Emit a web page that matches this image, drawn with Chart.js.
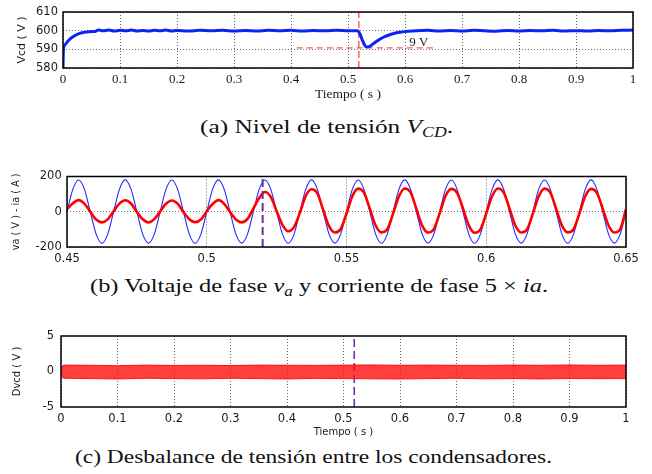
<!DOCTYPE html>
<html><head><meta charset="utf-8">
<script src="https://cdn.jsdelivr.net/npm/chart.js@4/dist/chart.umd.min.js"></script>
<style>
html,body{margin:0;padding:0;background:#fff;}
body{width:652px;height:474px;position:relative;overflow:hidden;}
canvas{position:absolute;left:0;}
.cap{position:absolute;white-space:nowrap;font-family:"Liberation Serif","Times New Roman",serif;font-size:19.5px;line-height:1;color:#111;transform-origin:0 0;}
.cap sub{font-size:0.7em;vertical-align:-0.3em;line-height:0;}
</style></head><body>
<canvas id="ca" width="652" height="106" style="top:0px"></canvas>
<canvas id="cb" width="652" height="112" style="top:160px"></canvas>
<canvas id="cc" width="652" height="121" style="top:320px"></canvas>
<div class="cap" id="capA">(a) Nivel de tensión <i>V</i><sub><i>CD</i></sub>.</div>
<div class="cap" id="capB">(b) Voltaje de fase <i>v</i><sub><i>a</i></sub> y corriente de fase 5 × <i>ia</i>.</div>
<div class="cap" id="capC">(c) Desbalance de tensión entre los condensadores.</div>
<script>
// ---------- (a) DC-link voltage ----------
const vcdTime = [
  0, 0.0008, 0.004, 0.008, 0.013, 0.019, 0.026, 0.033, 0.041, 0.05,
  0.056, 0.062, 0.07, 0.08, 0.09, 0.1, 0.11, 0.12, 0.13, 0.14,
  0.15, 0.16, 0.17, 0.18, 0.19, 0.2, 0.22, 0.24, 0.26, 0.28,
  0.3, 0.32, 0.34, 0.36, 0.38, 0.4, 0.42, 0.44, 0.46, 0.48,
  0.5, 0.51, 0.517, 0.521, 0.525, 0.529, 0.533, 0.537, 0.542, 0.548,
  0.555, 0.563, 0.572, 0.582, 0.594, 0.606, 0.62, 0.64, 0.66, 0.68,
  0.7, 0.72, 0.74, 0.76, 0.78, 0.8, 0.82, 0.84, 0.86, 0.88,
  0.9, 0.92, 0.94, 0.96, 0.98, 1.0];
const vcdValue = [
  580, 590, 592.6, 594.2, 595.7, 597.0, 598.2, 598.9, 599.3, 599.5,
  599.6, 600.4, 599.9, 600.3, 599.8, 600.2, 599.9, 600.3, 599.8, 600.1,
  599.8, 600.2, 599.9, 600.3, 599.8, 600.1, 599.8, 600.2, 599.9, 600.2,
  599.8, 600.1, 599.8, 600.2, 599.9, 600.2, 599.8, 600.1, 599.9, 600.2,
  599.9, 600.0, 599.9, 598.2, 595.0, 592.4, 591.2, 591.4, 592.4, 593.8,
  595.3, 596.6, 597.7, 598.6, 599.3, 599.7, 600.0, 600.2, 599.8, 600.1,
  599.8, 600.2, 599.9, 599.7, 600.1, 599.8, 600.1, 599.9, 600.2, 599.8,
  600.0, 599.8, 600.1, 599.9, 600.2, 600.3];
const eventTimeA = 0.519;
const dipLevel = 590.8;
const dipLineFrom = 0.41, dipLineTo = 0.653;
const dipLabel = "9 V", dipLabelTime = 0.6075, dipLabelValue = 592.0;
const xTicksA = [0, 0.1, 0.2, 0.3, 0.4, 0.5, 0.6, 0.7, 0.8, 0.9, 1];
const xLabelsA = ["0","0.1","0.2","0.3","0.4","0.5","0.6","0.7","0.8","0.9","1"];
const yTicksA = [580, 590, 600, 610];
const yLabelsA = ["580","590","600","610"];

// ---------- (b) phase voltage and 5x current (samples every 1/480 s from 0.45 s) ----------
const phaseStart = 0.45, phaseStep = 1/480;
const vaValue = [
  0,127,180,127,0,-127,-179,-127,
  0,127,181,127,0,-127,-178,-127,
  0,127,180,127,0,-127,-179,-127,
  0,127,181,127,0,-127,-178,-127,
  0,127,180,127,0,-127,-179,-127,
  0,127,181,127,0,-127,-178,-127,
  0,127,180,127,0,-127,-179,-127,
  0,127,181,127,0,-127,-178,-127,
  0,127,180,127,0,-127,-179,-127,
  0,127,181,127,0,-127,-178,-127,
  0,127,180,127,0,-127,-179,-127,
  0,127,181,127,0,-127,-178,-127,
  0];
const iaValue = [
  15,48,66,45,0,-44,-60,-43,
  3,46,65,47,-1,-43,-61,-42,
  2,45,64,46,-2,-42,-59,-44,
  3,44,66,45,-1,-44,-60,-40,
  18,78,112,84,4,-74,-111,-86,
  -6,90,128,104,10,-82,-118,-98,
  -10,88,131,108,18,-78,-117,-100,
  -11,87,132,110,17,-79,-118,-99,
  -9,89,130,107,19,-77,-119,-100,
  -10,88,132,109,18,-78,-118,-101,
  -11,87,131,108,17,-79,-117,-99,
  -10,88,130,107,18,-78,-118,-100,
  15];
const eventTimeB = 0.52;
const xTicksB = [0.45, 0.5, 0.55, 0.6, 0.65];
const xLabelsB = ["0.45","0.5","0.55","0.6","0.65"];
const yTicksB = [-200, 0, 200];
const yLabelsB = ["-200","0","200"];

// ---------- (c) capacitor voltage unbalance (ripple envelope) ----------
const dvTime  = [0, 0.004, 0.05, 0.1, 0.15, 0.2, 0.25, 0.3, 0.35, 0.4, 0.45, 0.5, 0.55, 0.6, 0.65, 0.7, 0.75, 0.8, 0.85, 0.9, 0.95, 1.0];
const dvUpper = [0.3, 0.9, 0.88, 0.82, 0.9, 0.85, 0.88, 0.84, 0.9, 0.88, 0.86, 0.9, 0.92, 0.88, 0.9, 0.88, 0.86, 0.9, 0.88, 0.92, 0.88, 0.9];
const dvLower = [-0.3, -0.95, -1.0, -1.05, -0.95, -1.0, -1.03, -0.95, -1.0, -1.05, -0.97, -1.0, -1.03, -1.05, -1.0, -0.95, -1.03, -1.0, -1.05, -0.99, -1.01, -1.0];
const eventTimeC = 0.519;
const xTicksC = [0, 0.1, 0.2, 0.3, 0.4, 0.5, 0.6, 0.7, 0.8, 0.9, 1];
const xLabelsC = ["0","0.1","0.2","0.3","0.4","0.5","0.6","0.7","0.8","0.9","1"];
const yTicksC = [-5, 0, 5];
const yLabelsC = ["-5","0","5"];

// ---------- helpers ----------
const SANS = "'DejaVu Sans', Verdana, sans-serif";
const SERIF = "'Liberation Serif', 'Times New Roman', serif";
const pairs = (xs, ys) => xs.map((x, i) => ({x: x, y: ys[i]}));
const fixed = list => axis => { axis.ticks = list.map(v => ({value: v})); };
const boxPlugin = {
  id: 'box',
  afterDraw(chart) {
    const {ctx, chartArea: a} = chart;
    ctx.save();
    ctx.strokeStyle = '#000';
    ctx.lineWidth = 1.5;
    ctx.strokeRect(a.left, a.top, a.right - a.left, a.bottom - a.top);
    ctx.restore();
  }
};
function axisX(min, max, ticks, labels, height, font, pad, title) {
  const o = {
    type: 'linear', min: min, max: max,
    afterBuildTicks: fixed(ticks),
    afterFit: s => { s.height = height; },
    grid: {color: 'rgba(0,0,0,0.6)', lineWidth: 1, drawTicks: false},
    border: {display: false, dash: [1, 2]},
    ticks: {autoSkip: false, maxRotation: 0, padding: pad, color: '#1a1a1a', font: font,
            callback: (v, i) => labels[i]}
  };
  if (title) o.title = title;
  return o;
}
function axisY(min, max, ticks, labels, width, font, pad, title, showGrid) {
  return {
    min: min, max: max,
    afterBuildTicks: fixed(ticks),
    afterFit: s => { s.width = width; },
    grid: {display: showGrid, color: 'rgba(0,0,0,0.55)', lineWidth: 1, drawTicks: false},
    border: {display: false, dash: [1, 2]},
    ticks: {autoSkip: false, padding: pad, color: '#1a1a1a', font: font,
            callback: (v, i) => labels[i]},
    title: title
  };
}
const baseOpts = {
  responsive: false, animation: false,
  plugins: {legend: {display: false}, tooltip: {enabled: false}},
  elements: {point: {radius: 0}}
};

// ---------- chart (a) ----------
const labelPlugin = {
  id: 'dipLabel',
  afterDatasetsDraw(chart) {
    const {ctx, scales} = chart;
    ctx.save();
    ctx.font = "13px " + SERIF;
    ctx.fillStyle = '#222';
    ctx.textAlign = 'left';
    ctx.textBaseline = 'alphabetic';
    ctx.fillText(dipLabel, scales.x.getPixelForValue(dipLabelTime), scales.y.getPixelForValue(dipLabelValue));
    ctx.restore();
  }
};
new Chart(document.getElementById('ca'), {
  type: 'line',
  data: {datasets: [
    {data: pairs(vcdTime, vcdValue), borderColor: '#0a24f2', borderWidth: 3, cubicInterpolationMode: 'monotone', order: 0},
    {data: [{x: eventTimeA, y: 580}, {x: eventTimeA, y: 610}], borderColor: 'rgba(255,50,50,0.9)', borderWidth: 1.3, borderDash: [7, 3], order: 1},
    {data: [{x: dipLineFrom, y: dipLevel}, {x: dipLineTo, y: dipLevel}], borderColor: 'rgba(255,60,60,0.85)', borderWidth: 1.3, borderDash: [6, 4], order: 1}
  ]},
  options: Object.assign({}, baseOpts, {
    layout: {padding: {left: 0, right: 19, top: 12, bottom: 0}},
    scales: {
      x: axisX(0, 1, xTicksA, xLabelsA, 38, {family: SERIF, size: 13}, 4.2,
               {display: true, text: 'Tiempo ( s )', color: '#1a1a1a', font: {family: SERIF, size: 13.5}, padding: {top: 0, bottom: 3.9}}),
      y: axisY(580, 610, yTicksA, yLabelsA, 63, {family: SANS, size: 11.5}, 5,
               {display: true, text: 'Vcd ( V )', color: '#1a1a1a', font: {family: SANS, size: 11}, padding: {top: 15.4, bottom: 0}}, true)
    }
  }),
  plugins: [boxPlugin, labelPlugin]
});

// ---------- chart (b) ----------
const phaseTime = vaValue.map((_, k) => phaseStart + k * phaseStep);
new Chart(document.getElementById('cb'), {
  type: 'line',
  data: {datasets: [
    {data: [{x: eventTimeB, y: -200}, {x: eventTimeB, y: 200}], borderColor: '#6a2f9e', borderWidth: 2, borderDash: [8, 4], order: 0},
    {data: pairs(phaseTime, iaValue), borderColor: '#ff0000', borderWidth: 2.6, cubicInterpolationMode: 'monotone', order: 1},
    {data: pairs(phaseTime, vaValue), borderColor: '#1f2bff', borderWidth: 1.1, cubicInterpolationMode: 'monotone', order: 2}
  ]},
  options: Object.assign({}, baseOpts, {
    layout: {padding: {left: 0, right: 26, top: 16.5, bottom: 0}},
    scales: {
      x: axisX(0.45, 0.65, xTicksB, xLabelsB, 25, {family: SANS, size: 11.5}, 5, null),
      y: axisY(-200, 200, yTicksB, yLabelsB, 67, {family: SANS, size: 11.5}, 5.3,
               {display: true, text: 'va ( V ) - ia ( A )', color: '#1a1a1a', font: {family: SANS, size: 9.7}, padding: {top: 10.2, bottom: 0}}, true)
    }
  }),
  plugins: [boxPlugin]
});

// ---------- chart (c) ----------
new Chart(document.getElementById('cc'), {
  type: 'line',
  data: {datasets: [
    {data: pairs(dvTime, dvUpper), borderColor: 'rgba(255,0,0,0.9)', borderWidth: 1, backgroundColor: 'rgba(255,20,20,0.82)', fill: '+1', order: 0},
    {data: pairs(dvTime, dvLower), borderColor: 'rgba(255,0,0,0.9)', borderWidth: 1, fill: false, order: 0},
    {data: [{x: eventTimeC, y: -5}, {x: eventTimeC, y: 5}], borderColor: '#7030b0', borderWidth: 1.6, borderDash: [8, 4], order: 1}
  ]},
  options: Object.assign({}, baseOpts, {
    layout: {padding: {left: 0, right: 26, top: 16, bottom: 0}},
    scales: {
      x: axisX(0, 1, xTicksC, xLabelsC, 34, {family: SANS, size: 11.5}, 5,
               {display: true, text: 'Tiempo ( s )', color: '#1a1a1a', font: {family: SANS, size: 10}, padding: {top: 0, bottom: 3}}),
      y: axisY(-5, 5, yTicksC, yLabelsC, 61, {family: SANS, size: 11.5}, 7,
               {display: true, text: 'Dvcd ( V )', color: '#1a1a1a', font: {family: SANS, size: 10}, padding: {top: 11, bottom: 0}}, false)
    }
  }),
  plugins: [boxPlugin]
});

// ---------- captions ----------
function placeCaption(id, left, width, baseline) {
  const el = document.getElementById(id);
  el.style.left = left + 'px';
  el.style.top = (baseline - 16.3) + 'px';
  const w = el.getBoundingClientRect().width;
  el.style.transform = 'scaleX(' + (width / w) + ')';
}
placeCaption('capA', 200, 253, 133);
placeCaption('capB', 90, 458, 292);
placeCaption('capC', 75, 477, 463);
</script>
</body></html>
